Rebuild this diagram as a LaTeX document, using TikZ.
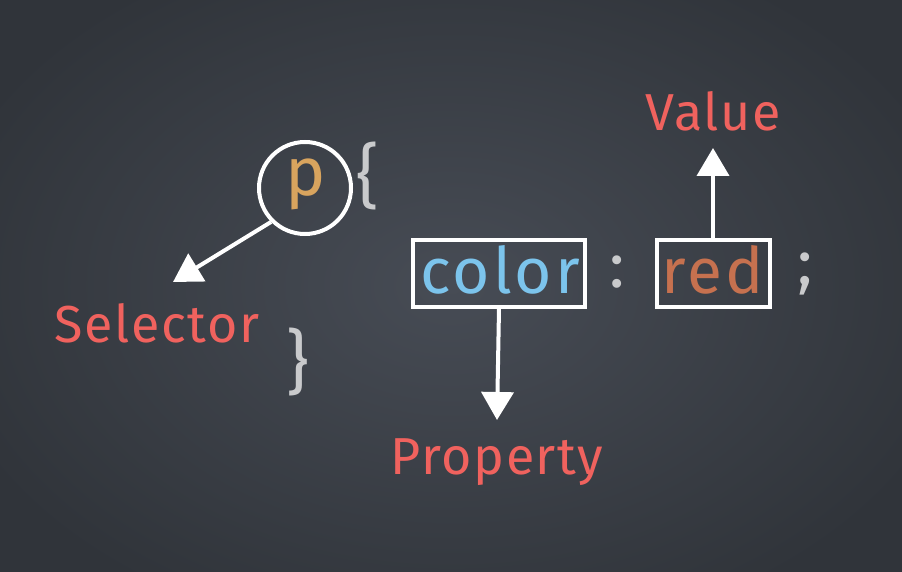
\documentclass[tikz,border=0pt]{standalone}
\usepackage{fontspec}
\setmainfont{Fira Sans}
\usetikzlibrary{arrows.meta}
\definecolor{board}{HTML}{474C55}
\definecolor{boarddark}{HTML}{30343A}
\definecolor{chalkred}{HTML}{F0625E}
\definecolor{chalkblue}{HTML}{7CC4EC}
\definecolor{chalkorange}{HTML}{D8A45E}
\definecolor{chalkbrown}{HTML}{C6714F}
\definecolor{chalkgrey}{HTML}{C9CACC}
\tikzset{
  chalkarrow/.style={white, line width=4pt, -{Triangle[width=32pt,length=28pt]}},
  chalkbox/.style={draw=white, line width=4pt, inner sep=0pt},
  label/.style={text=chalkred, font=\fontsize{52}{56}\selectfont\addfontfeatures{LetterSpace=3}, inner sep=0pt},
  code/.style={font=\fontsize{64}{68}\selectfont\addfontfeatures{LetterSpace=5}, inner sep=0pt},
  punct/.style={text=chalkgrey, font=\fontsize{64}{68}\selectfont, inner sep=0pt}
}
\begin{document}
\begin{tikzpicture}[x=1pt,y=-1pt]
\useasboundingbox (0,0) rectangle (902,572);
\shade[inner color=board, outer color=boarddark] (-80,-80) rectangle (982,652);
\node[code, text=chalkorange, font=\fontsize{68}{72}\selectfont] (p) at (306,184) {p};
\node[chalkbox, circle, minimum size=92pt] (pc) at (305,188) {};
\node[punct, font=\fontsize{70}{74}\selectfont] (lb) at (368,176) {\{};
\node[punct, font=\fontsize{70}{74}\selectfont] (rb) at (298,362) {\}};
\node[label] (sel) at (157,323) {Selector};
\draw[chalkarrow] (pc.south west) -- (173,282) coordinate (selarrow);
\node[chalkbox, minimum width=172pt, minimum height=67pt] (cbox) at (499,273) {};
\node[code, text=chalkblue] (color) at (500,270) {color};
\node[punct] (colon) at (617,272) {:};
\node[chalkbox, minimum width=113pt, minimum height=67pt] (rbox) at (713,273) {};
\node[code, text=chalkbrown] (red) at (713,270) {red};
\node[punct] (semi) at (805,274) {;};
\node[label] (val) at (713,111) {Value};
\node[label] (prop) at (497,462) {Property};
\coordinate (valtip) at (713,148);
\coordinate (proptip) at (497,420);
\draw[chalkarrow] (rbox.north) -- (valtip);
\draw[chalkarrow] (cbox.south) -- (proptip);
\end{tikzpicture}
\end{document}
